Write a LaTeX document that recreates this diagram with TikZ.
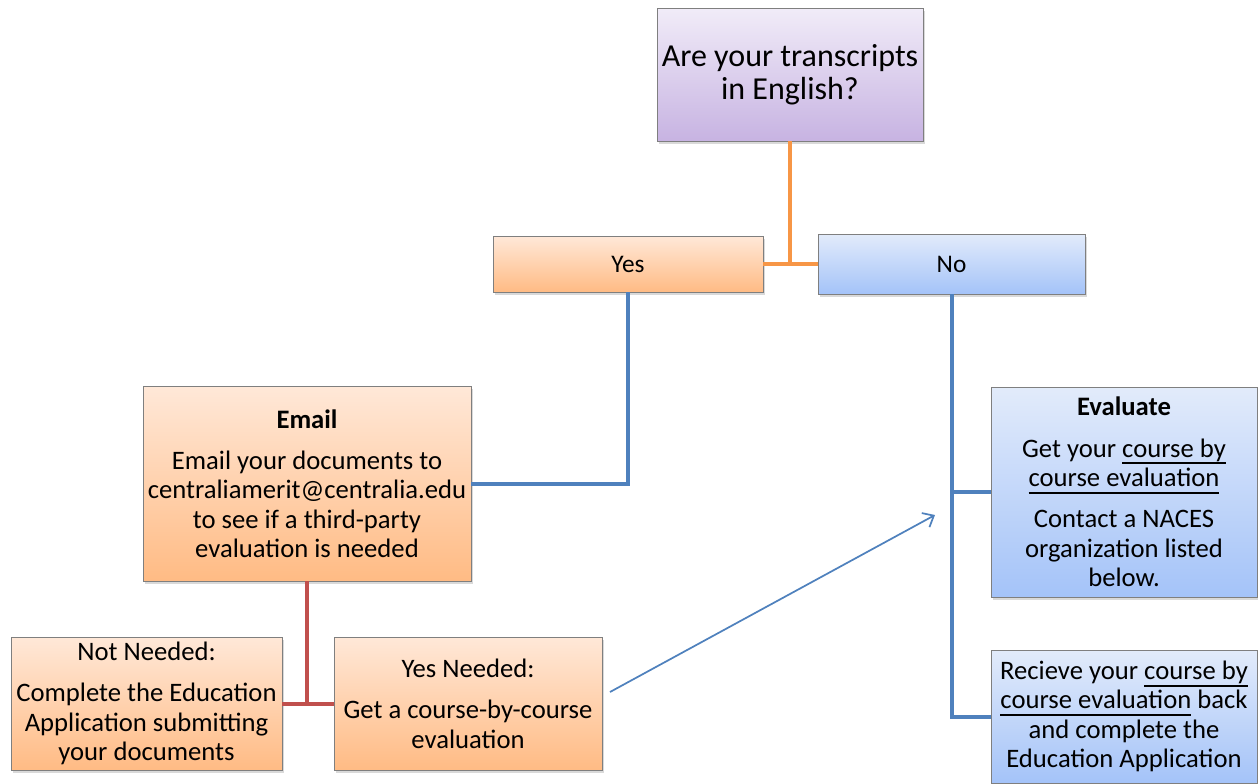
\documentclass[tikz,border=0pt]{standalone}
\usepackage{fontspec}
\setmainfont{Carlito}
\usetikzlibrary{shadows,arrows.meta}
\newcommand\myul[1]{\setbox0\hbox{#1}\rlap{\rule[-0.27em]{\wd0}{0.075em}}\box0\relax}
\definecolor{orTop}{HTML}{FFE8D8}
\definecolor{orBot}{HTML}{FFBB84}
\definecolor{puTop}{HTML}{F1ECF8}
\definecolor{puBot}{HTML}{C7B3E2}
\definecolor{blTop}{HTML}{E2EBFA}
\definecolor{blBot}{HTML}{A4C3F9}
\definecolor{boxLine}{HTML}{7F7F7F}
\definecolor{orLine}{HTML}{F79646}
\definecolor{blLine}{HTML}{4F81BD}
\definecolor{rdLine}{HTML}{C0504D}
\tikzset{
  box/.style={draw=boxLine, line width=0.6pt, inner sep=0pt, align=center,
    drop shadow={shadow xshift=1.2pt, shadow yshift=-2pt, opacity=0.3},
    font=\fontsize{20}{22}\selectfont},
  obox/.style={box, top color=orTop, bottom color=orBot},
  pbox/.style={box, top color=puTop, bottom color=puBot},
  bbox/.style={box, top color=blTop, bottom color=blBot},
  conn/.style={line width=3pt, line join=miter},
  orconn/.style={conn, draw=orLine},
  blconn/.style={conn, draw=blLine},
  rdconn/.style={conn, draw=rdLine},
  arrconn/.style={draw=blLine, line width=1.3pt, -{Straight Barb[length=7pt,width=12pt]}}
}
\begin{document}
\begin{tikzpicture}[x=0.75pt,y=-0.75pt]
\useasboundingbox (0,0) rectangle (1258,783);
\node[pbox, font=\fontsize{24}{24.75}\selectfont, minimum width=199.5pt, minimum height=99.75pt] (q) at (790,74.5) {Are your transcripts\\in English?};
\node[obox, font=\fontsize{19}{22}\selectfont, minimum width=202.5pt, minimum height=42pt] (yes) at (628,264) {Yes};
\node[bbox, font=\fontsize{19}{22}\selectfont, minimum width=200.25pt, minimum height=45pt] (no) at (951.5,264) {No};
\node[obox, minimum width=246pt, minimum height=146.25pt] (email) at (307,483.5) {\textbf{Email}\\[9pt] Email your documents to\\ centraliamerit@centralia.edu\\ to see if a third-party\\ evaluation is needed};
\node[obox, minimum width=203.25pt, minimum height=99.75pt] (nn) at (146.5,703.5) {Not Needed:\\[9pt] Complete the Education\\ Application submitting\\ your documents};
\node[obox, minimum width=201pt, minimum height=99.75pt] (yn) at (468,703.5) {Yes Needed:\\[9pt] Get a course-by-course\\ evaluation};
\node[bbox, minimum width=199.5pt, minimum height=157.5pt] (ev) at (1124,492) {\textbf{Evaluate}\\[9pt] Get your \myul{course by}\\ \myul{course evaluation}\\[9pt] Contact a NACES\\ organization listed\\ below.};
\node[bbox, minimum width=199.5pt, minimum height=99.75pt] (rc) at (1124,716.5) {Recieve your \myul{course by}\\ \myul{course evaluation} back\\ and complete the\\ Education Application};
\draw[orconn] (q.south) -- (q.south |- yes.east);
\draw[orconn] (yes.east) -- (no.west);
\draw[blconn] (yes.south) -- (yes.south |- email.east) -- (email.east);
\draw[rdconn] (email.south) -- (email.south |- nn.east);
\draw[rdconn] (nn.east) -- (yn.west);
\draw[blconn] (no.south) -- (no.south |- rc.west) -- (rc.west);
\draw[blconn] (no.south |- ev.west) -- (ev.west);
\coordinate (a1) at (610,692);
\coordinate (a2) at (935,515);
\draw[arrconn] (a1) -- (a2);
\end{tikzpicture}
\end{document}
